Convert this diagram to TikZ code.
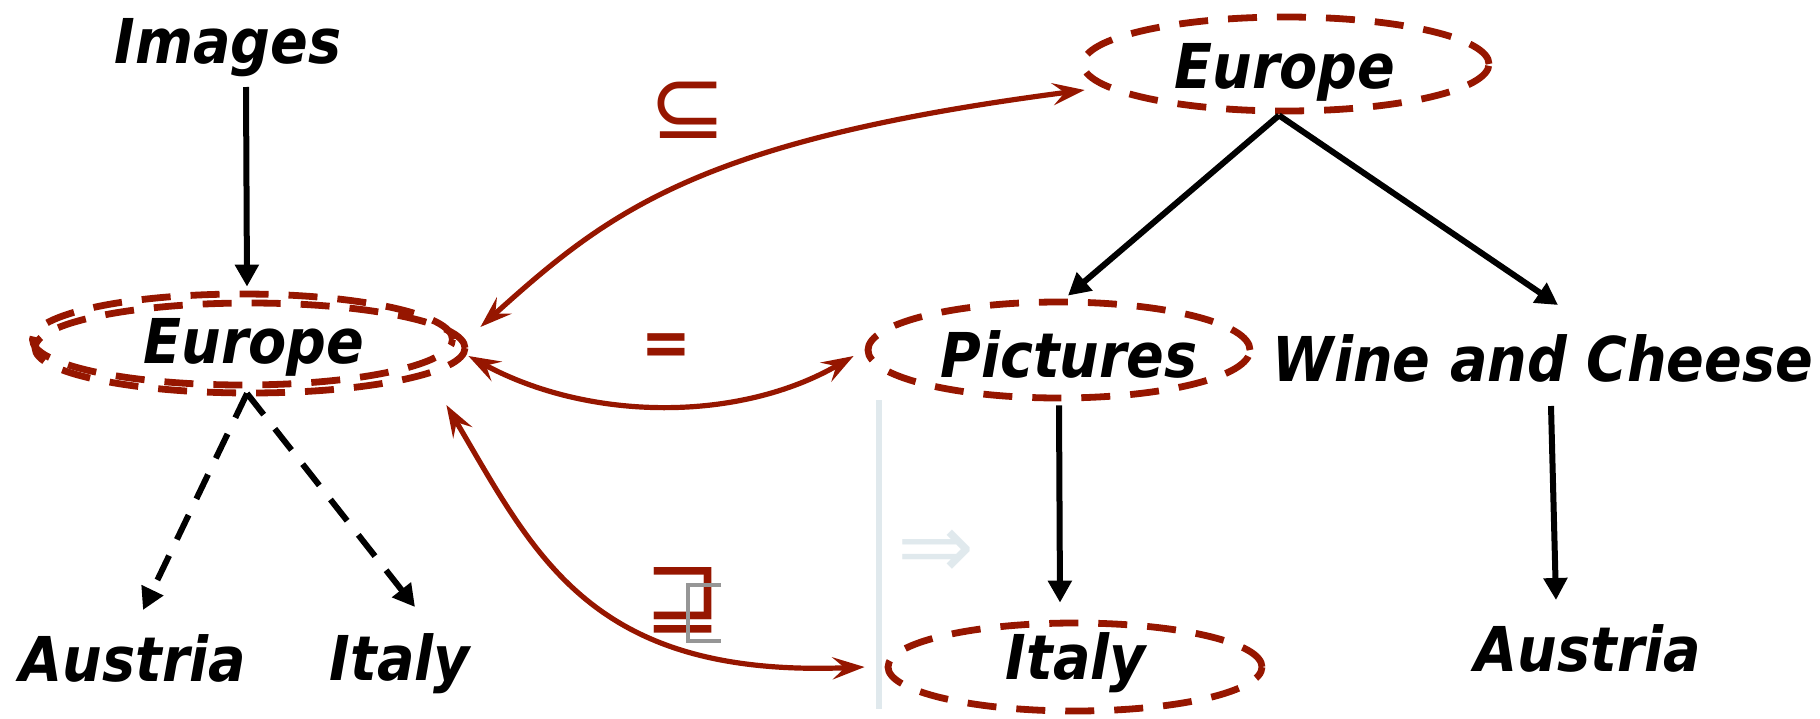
\documentclass[tikz,border=0pt]{standalone}
\usepackage{fontspec}
\usetikzlibrary{arrows.meta,shapes.geometric,calc}
\newfontfamily\lblfont[FakeStretch=0.9]{DejaVu Sans}
\newfontfamily\symfont{DejaVu Sans}
\definecolor{dred}{RGB}{150,22,0}
\definecolor{faint}{RGB}{224,233,237}
\definecolor{gbr}{RGB}{150,150,150}
\begin{document}
\begin{tikzpicture}[x=0.5pt,y=-0.5pt,
 lbl/.style={font=\lblfont\bfseries\itshape\fontsize{30.9}{36}\selectfont, inner sep=0pt, anchor=base},
 rell/.style={ellipse, draw=dred, line width=3.4pt, dash pattern=on 14.5pt off 10pt, inner sep=0pt},
 blk/.style={line width=3pt, -{Triangle[length=11pt,width=11.5pt]}},
 bdash/.style={blk, line width=3pt, dash pattern=on 13.5pt off 9pt},
 rtip/.tip={Stealth[length=16pt,width=11pt,inset=6pt]},
 rarr/.style={draw=dred, line width=2.6pt, rtip-rtip},
 rsym/.style={text=dred, font=\symfont\fontsize{46}{46}\selectfont, inner sep=0pt}
]
\useasboundingbox (0,0) rectangle (1820,718);
% faint vertical line and arrow
\draw[faint, line width=3pt] (879,400) -- (879,709);
\node[text=faint, font=\symfont\fontsize{46}{46}\selectfont, inner sep=0pt] (impl) at (936,554) {⇒};

% left part
\node[lbl] (tImages) at (228,63) {Images};
\node[rell, minimum width=210pt, minimum height=45.5pt] (eL1) at (242.5,339.5) {};
\node[rell, minimum width=215pt, minimum height=45pt] (eL2) at (250,348) {};
\node[lbl] (tEurL) at (254,363) {Europe};
\node[lbl] (tAusL) at (133,681) {Austria};
\node[lbl] (tItL) at (400,680) {Italy};

% right part
\node[rell, minimum width=203pt, minimum height=47pt] (eTop) at (1286,64) {};
\node[lbl] (tTop) at (1285,88) {Europe};
\node[rell, minimum width=191pt, minimum height=48pt] (ePic) at (1059,350) {};
\node[lbl] (tPic) at (1069,377) {Pictures};
\node[lbl] (tWine) at (1543,381) {Wine and Cheese};
\node[rell, minimum width=187pt, minimum height=44pt] (eItR) at (1075,667) {};
\node[lbl] (tItR) at (1076,679) {Italy};
\node[lbl] (tAusR) at (1588,671) {Austria};

% black arrows
\draw[blk] ($(tImages.base)+(18,24)$) -- ($(eL1.north)+(4.5,-4)$);
\draw[bdash] ($(eL2.south)+(-3,-3)$) -- ($(tAusL.base)+(10,-71)$);
\draw[bdash] ($(eL2.south)+(-3,-3)$) -- ($(tItL.base)+(15,-73)$);
\draw[blk] ($(eTop.south)+(-7,1)$) -- ($(ePic.north)+(9,-3)$);
\draw[blk] ($(eTop.south)+(-7,1)$) -- ($(tWine.base)+(15,-76)$);
\draw[blk] ($(ePic.south)+(0,4)$) -- ($(eItR.north)+(-15,-17)$);
\draw[blk] ($(tWine.base)+(8,25)$) -- ($(tAusR.base)+(-32,-71)$);

% red relation arrows
\draw[rarr] ($(eL2.east)+(12,-21)$) .. controls (610,210) and (700,140) .. ($(eTop.west)+(5,26)$);
\draw[rarr] ($(eL2.east)+(0,8)$) .. controls (590,422) and (740,422) .. ($(ePic.west)+(-11,6)$);
\draw[rarr] ($(eL2.east)+(-22,57)$) .. controls (535,555) and (590,678) .. ($(eItR.west)+(-20,0)$);

% relation labels
\node[rsym] (sSub) at (688,110) {⊆};
\node[text=dred, font=\lblfont\bfseries\fontsize{33}{33}\selectfont, inner sep=0pt] (sEq) at (666,350) {=};
\node[rsym] (sSup) at (683,600) {⊒};
\draw[gbr, line width=1.7pt] (721,585) -- (688,585) -- (688,641) -- (721,641);
\end{tikzpicture}
\end{document}
